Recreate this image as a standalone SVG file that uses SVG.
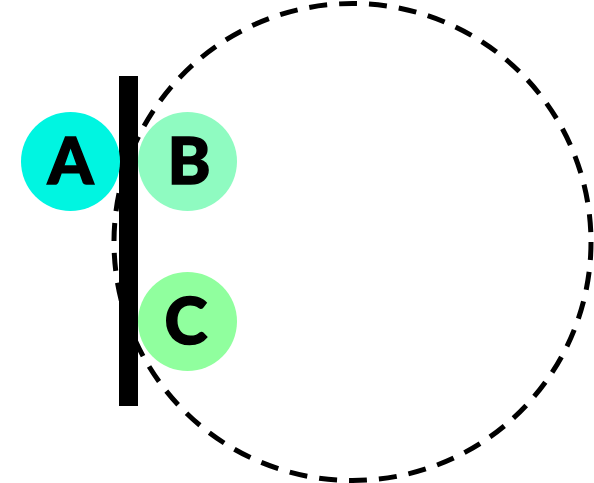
<svg xmlns="http://www.w3.org/2000/svg" width="594" height="483" viewBox="0 0 594 483">
<style>
.lbl{font-family:"Lato","Open Sans",sans-serif;font-weight:900;font-size:65px;fill:#000;stroke:#000;stroke-width:1.5;text-anchor:middle;dominant-baseline:central}
</style>
<rect width="594" height="483" fill="#fff"/>
<g id="connectors">
<circle cx="352.5" cy="242" r="238.5" fill="none" stroke="#000" stroke-width="5" stroke-dasharray="18 12"/>
<rect x="119" y="76" width="19" height="330" fill="#000"/>
</g>
<g id="A"><circle cx="70.5" cy="161.5" r="49.5" fill="#00F5E1"/><text class="lbl" x="70.5" y="159">A</text></g>
<g id="B"><circle cx="187.5" cy="161.5" r="49.5" fill="#8FFBC1"/><text class="lbl" x="189" y="159">B</text></g>
<g id="C"><circle cx="187.5" cy="321.5" r="49.5" fill="#90FF9E"/><text class="lbl" x="186" y="319">C</text></g>
</svg>
